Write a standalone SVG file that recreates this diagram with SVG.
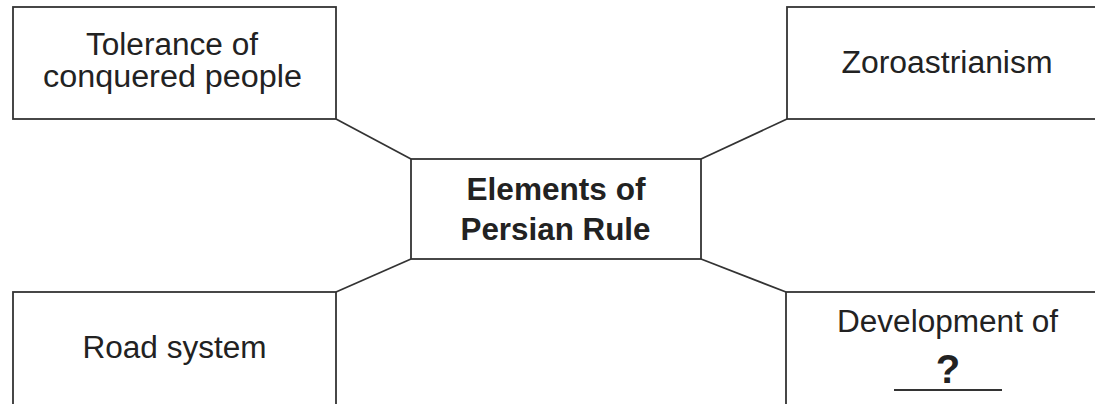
<svg xmlns="http://www.w3.org/2000/svg" width="1095" height="404" viewBox="0 0 1095 404">
<style>
.box{fill:#fff;stroke:#333;stroke-width:1.8}
.con{stroke:#333;stroke-width:1.8;fill:none}
.t{font-family:"Liberation Sans",Arial,sans-serif;font-size:31px;fill:#222;text-anchor:middle}
.b{font-weight:bold}
</style>
<rect width="1095" height="404" fill="#fff"/>
<g id="connectors">
<line class="con" x1="336" y1="119" x2="411" y2="159"/>
<line class="con" x1="787" y1="119" x2="701" y2="159"/>
<line class="con" x1="336" y1="292" x2="411" y2="259"/>
<line class="con" x1="701" y1="259" x2="786" y2="292"/>
</g>
<g id="node-tolerance">
<rect class="box" x="13" y="7" width="323" height="112"/>
<text class="t" x="172" y="55" textLength="172" lengthAdjust="spacingAndGlyphs">Tolerance of</text>
<text class="t" x="172.5" y="87" textLength="259" lengthAdjust="spacingAndGlyphs">conquered people</text>
</g>
<g id="node-zoroastrianism">
<rect class="box" x="787" y="7" width="320" height="112"/>
<text class="t" x="947" y="72.5" textLength="211" lengthAdjust="spacingAndGlyphs">Zoroastrianism</text>
</g>
<g id="node-center">
<rect class="box" x="411" y="159" width="290" height="100"/>
<text class="t b" x="556" y="200" textLength="179" lengthAdjust="spacingAndGlyphs">Elements of</text>
<text class="t b" x="555.5" y="240" textLength="190" lengthAdjust="spacingAndGlyphs">Persian Rule</text>
</g>
<g id="node-road">
<rect class="box" x="13" y="292" width="323" height="130"/>
<text class="t" x="174.5" y="358" textLength="184" lengthAdjust="spacingAndGlyphs">Road system</text>
</g>
<g id="node-development">
<rect class="box" x="786" y="292" width="320" height="130"/>
<text class="t" x="947.5" y="331.5" textLength="221" lengthAdjust="spacingAndGlyphs">Development of</text>
<text class="t b" x="948" y="383" style="font-size:40px">?</text>
<line class="con" x1="894" y1="390" x2="1002" y2="390"/>
</g>
</svg>
